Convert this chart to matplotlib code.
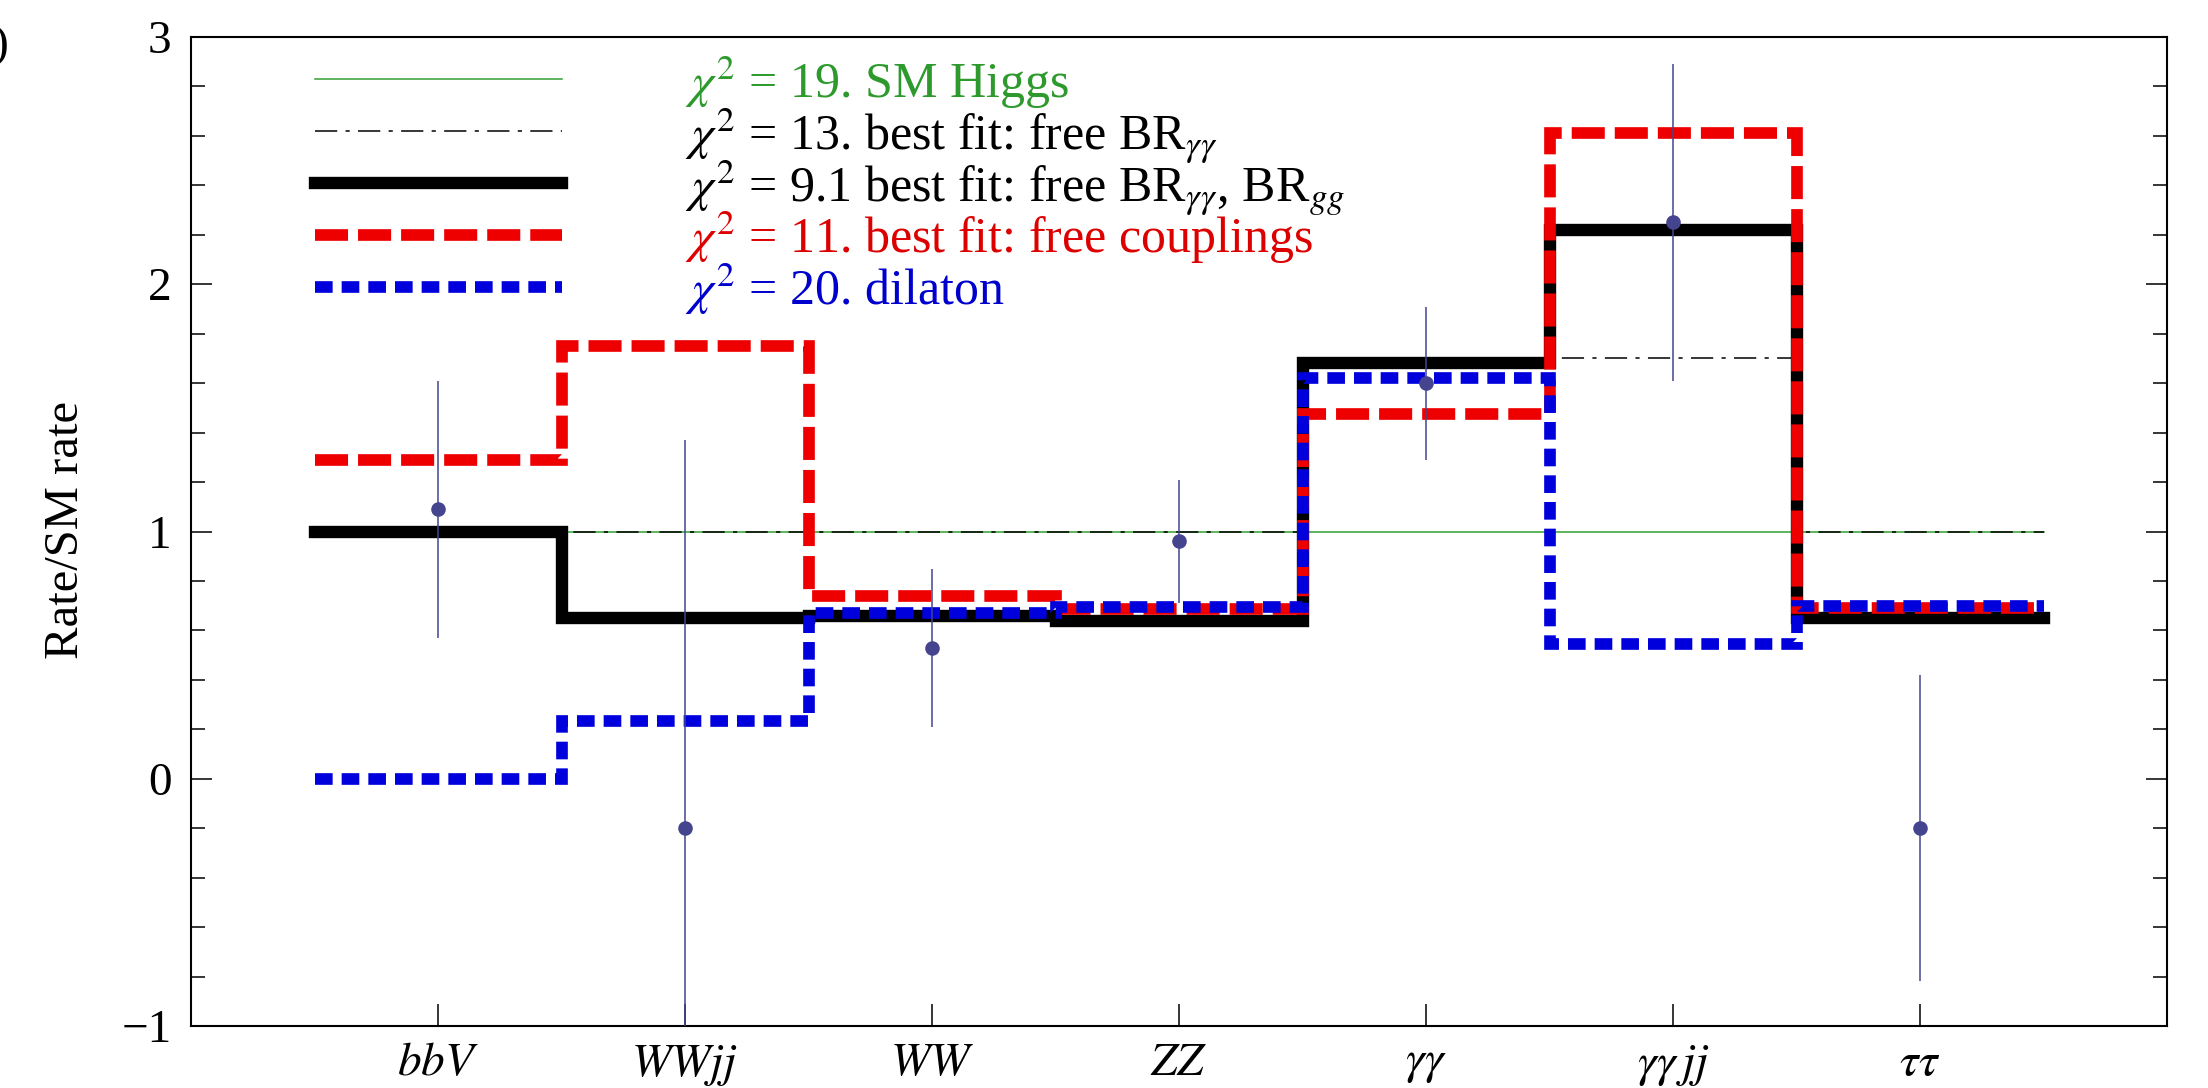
import numpy as np
import matplotlib
matplotlib.use("Agg")
import matplotlib.pyplot as plt

plt.rcParams['font.family'] = ['Liberation Serif', 'DejaVu Serif']
plt.rcParams['mathtext.fontset'] = 'stix'
plt.rcParams['lines.scale_dashes'] = False

# channels and measured rates
channels = [r'$bbV$', r'$WWjj$', r'$WW$', r'$ZZ$', r'$\gamma\gamma$', r'$\gamma\gamma\, jj$', r'$\tau\tau$']
data_val = [1.09, -0.20, 0.53, 0.96, 1.60, 2.25, -0.20]
data_err = [0.52, 1.57, 0.32, 0.25, 0.31, 0.64, 0.62]

# model predictions per channel
sm_higgs = [1.0, 1.0, 1.0, 1.0, 1.0, 1.0, 1.0]
fit_bryy = [1.0, 1.0, 1.0, 1.0, 1.70, 1.70, 1.0]
fit_bryy_brgg = [1.0, 0.65, 0.66, 0.64, 1.68, 2.22, 0.65]
fit_couplings = [1.29, 1.75, 0.74, 0.685, 1.475, 2.61, 0.69]
dilaton = [0.0, 0.235, 0.67, 0.695, 1.62, 0.545, 0.70]

labels = [r'$\chi^2$ = 19. SM Higgs',
          r'$\chi^2$ = 13. best fit: free BR$_{\gamma\gamma}$',
          r'$\chi^2$ = 9.1 best fit: free BR$_{\gamma\gamma}$, BR$_{gg}$',
          r'$\chi^2$ = 11. best fit: free couplings',
          r'$\chi^2$ = 20. dilaton']
legend_y = [2.83, 2.62, 2.41, 2.20, 1.99]

styles = [
    dict(color='#33a033', lw=1.1, ls='-'),
    dict(color='black', lw=1.1, ls=(0, (16, 6, 3, 6))),
    dict(color='black', lw=8.9, ls='-'),
    dict(color='#ee0000', lw=8.4, ls=(0, (23.8, 7.2))),
    dict(color='#0000dd', lw=8.4, ls=(0, (12.7, 6.5))),
]
text_colors = ['#2e9a2e', 'black', 'black', '#dd0000', '#0000cc']

FS = 34

fig = plt.figure(figsize=(22.08, 10.88), dpi=100)
ax = fig.add_axes([191 / 2208, 1 - 1026 / 1088, (2167 - 191) / 2208, (1026 - 37) / 1088])

x = np.arange(1, len(channels) + 1)
edges = np.arange(0.5, len(channels) + 1, 1.0)

for vals, st in zip([sm_higgs, fit_bryy, fit_bryy_brgg, fit_couplings, dilaton], styles):
    yy = list(vals) + [vals[-1]]
    ax.plot(edges, yy, drawstyle='steps-post', solid_joinstyle='miter',
            dash_joinstyle='miter', dash_capstyle='butt', **st)

ax.errorbar(x, data_val, yerr=data_err, fmt='o', color='#45458f', ms=10.5,
            mew=0, elinewidth=1.1, capsize=6, capthick=1.1, zorder=5)

# legend drawn inside the frame
for yl, lab, st, tc in zip(legend_y, labels, styles, text_colors):
    ax.plot([0.5, 1.5], [yl, yl], dash_capstyle='butt', **st)
    ax.text(2.0, yl - 0.075, lab, color=tc, fontsize=36, va='baseline', ha='left')

ax.set_xlim(0, 8)
ax.set_ylim(-1, 3)
ax.set_xticks(x)
ax.set_xticklabels(channels, fontsize=FS)
ax.set_yticks([-1, 0, 1, 2, 3])
ax.set_yticks(np.arange(-1, 3.01, 0.2), minor=True)
ax.tick_params(axis='y', which='both', direction='in', left=True, right=True,
               labelsize=FS, width=1.1, pad=14)
ax.tick_params(axis='y', which='major', length=15)
ax.tick_params(axis='y', which='minor', length=10)
ax.tick_params(axis='x', which='both', direction='in', top=False, length=16,
               width=1.1, pad=12)
for sp in ax.spines.values():
    sp.set_linewidth(1.5)

fig.text(66 / 2208, 1 - 530 / 1088, 'Rate/SM rate', rotation=90, fontsize=35,
         ha='center', va='center')
fig.text(8 / 2208, 1 - 46 / 1088, ')', fontsize=FS, ha='right', va='center')

fig.savefig('out.png', dpi=100)
